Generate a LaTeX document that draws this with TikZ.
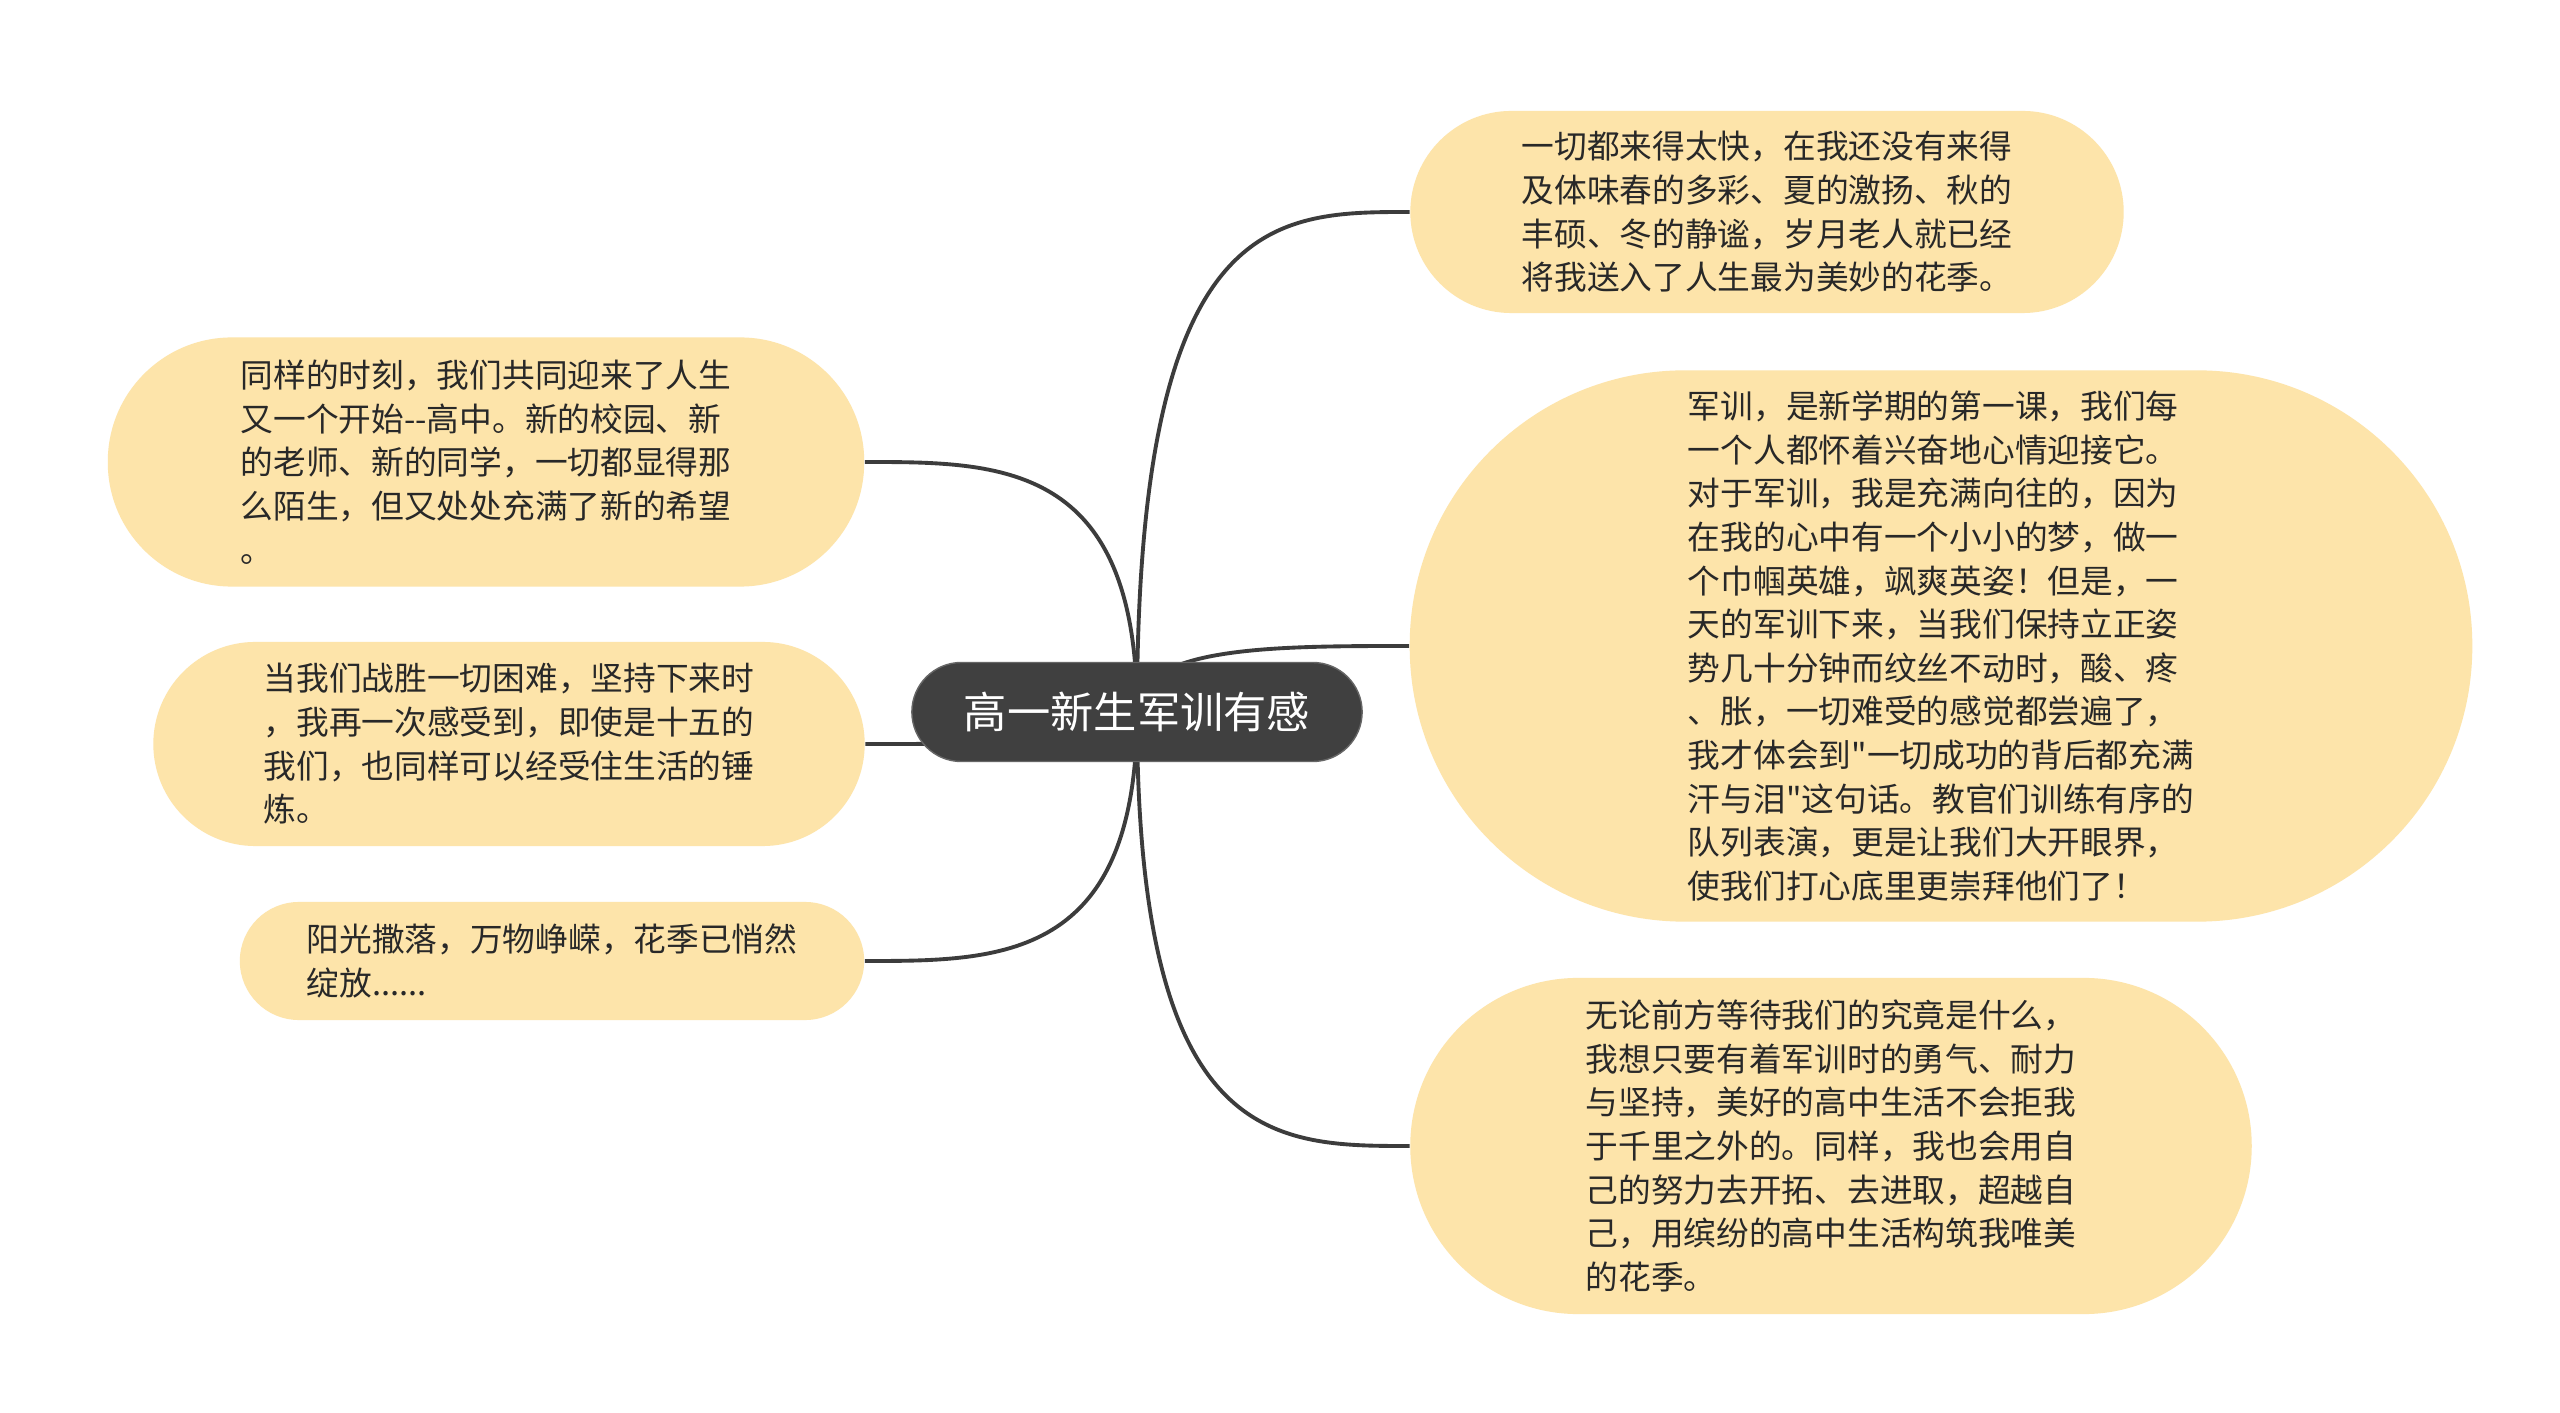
\documentclass[tikz,border=0pt]{standalone}
\usepackage{fontspec}
\newfontfamily\cjk{Noto Sans CJK SC}
\usetikzlibrary{backgrounds,calc}
\definecolor{leafbg}{RGB}{253,228,170}
\definecolor{rootbg}{RGB}{64,64,64}
\definecolor{inkgray}{RGB}{40,40,40}
\definecolor{linkgray}{RGB}{60,60,60}

\begin{document}
\begin{tikzpicture}[x=0.01cm,y=-0.01cm,
root/.style={
fill=rootbg,
draw=rootbg!80,
rounded corners=0.495cm,
minimum width=4.5cm,
minimum height=0.99cm,
font={\cjk\color{white}\fontsize{12.3pt}{15pt}\selectfont},
},
leaf/.style={
fill=leafbg,
align=left,
inner sep=0pt,
font={\cjk\color{inkgray}\fontsize{9.3pt}{12.4pt}\selectfont},
},
link/.style={
draw=linkgray,
line width=1.1pt,
},
]
\useasboundingbox(0,0)rectangle(2560,1413);
\node[root](c)at(1137,712){高一新生军训有感};
\node[leaf,minimum width=7.13cm,minimum height=2.02cm,rounded corners=1.01cm](r1)at(1767,212){%
一切都来得太快，在我还没有来得\\%
及体味春的多彩、夏的激扬、秋的\\%
丰硕、冬的静谧，岁月老人就已经\\%
将我送入了人生最为美妙的花季。};
\node[leaf,minimum width=10.62cm,minimum height=5.51cm,rounded corners=2.75cm](r2)at(1941,646){%
军训，是新学期的第一课，我们每\\%
一个人都怀着兴奋地心情迎接它。\\%
对于军训，我是充满向往的，因为\\%
在我的心中有一个小小的梦，做一\\%
个巾帼英雄，飒爽英姿！但是，一\\%
天的军训下来，当我们保持立正姿\\%
势几十分钟而纹丝不动时，酸、疼\\%
、胀，一切难受的感觉都尝遍了，\\%
我才体会到"一切成功的背后都充满\\%
汗与泪"这句话。教官们训练有序的\\%
队列表演，更是让我们大开眼界，\\%
使我们打心底里更崇拜他们了！};
\node[leaf,minimum width=8.41cm,minimum height=3.36cm,rounded corners=1.68cm](r3)at(1831,1146){%
无论前方等待我们的究竟是什么，\\%
我想只要有着军训时的勇气、耐力\\%
与坚持，美好的高中生活不会拒我\\%
于千里之外的。同样，我也会用自\\%
己的努力去开拓、去进取，超越自\\%
己，用缤纷的高中生活构筑我唯美\\%
的花季。};
\node[leaf,minimum width=7.56cm,minimum height=2.49cm,rounded corners=1.24cm](l1)at(486,462){%
同样的时刻，我们共同迎来了人生\\%
又一个开始-{}-高中。新的校园、新\\%
的老师、新的同学，一切都显得那\\%
么陌生，但又处处充满了新的希望\\%
。};
\node[leaf,minimum width=7.11cm,minimum height=2.04cm,rounded corners=1.02cm](l2)at(509,744){%
当我们战胜一切困难，坚持下来时\\%
，我再一次感受到，即使是十五的\\%
我们，也同样可以经受住生活的锤\\%
炼。};
\node[leaf,minimum width=6.24cm,minimum height=1.18cm,rounded corners=0.59cm](l3)at(552,961){%
阳光撒落，万物峥嵘，花季已悄然\\%
绽放......};

\begin{pgfonlayer}{background}
\fill[white](0,0)rectangle(2560,1413);
\draw[link](c.center)..controls(c.center|-r1.west)and($(c.center|-r1.west)!.5!(r1.west)$)..(r1.west);
\draw[link](c.center)..controls(c.center|-r2.west)and($(c.center|-r2.west)!.5!(r2.west)$)..(r2.west);
\draw[link](c.center)..controls(c.center|-r3.west)and($(c.center|-r3.west)!.5!(r3.west)$)..(r3.west);
\draw[link](c.center)..controls(c.center|-l1.east)and($(c.center|-l1.east)!.5!(l1.east)$)..(l1.east);
\draw[link](c.center)..controls(c.center|-l2.east)and($(c.center|-l2.east)!.5!(l2.east)$)..(l2.east);
\draw[link](c.center)..controls(c.center|-l3.east)and($(c.center|-l3.east)!.5!(l3.east)$)..(l3.east);
\end{pgfonlayer}
\end{tikzpicture}
\end{document}
